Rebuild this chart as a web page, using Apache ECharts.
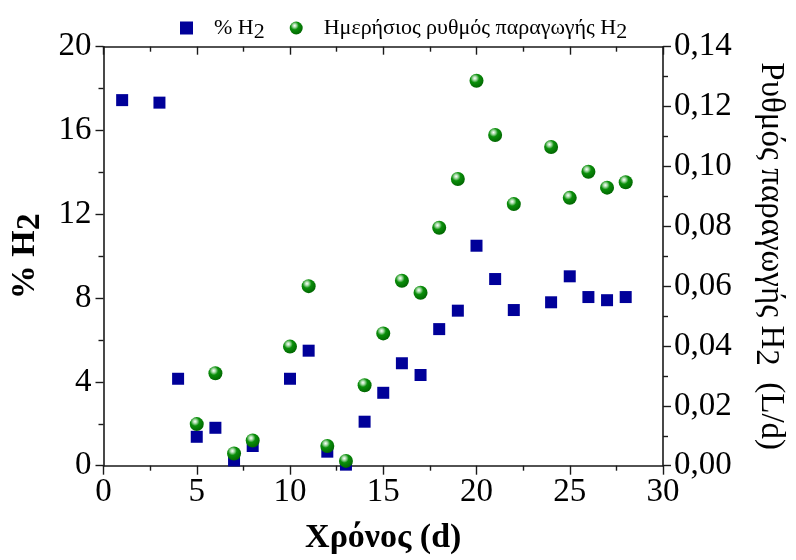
<!DOCTYPE html>
<html>
<head>
<meta charset="utf-8">
<script src="https://cdn.jsdelivr.net/npm/echarts@6/dist/echarts.min.js"></script>
<style>html,body{margin:0;padding:0;background:#fff}#c{width:796px;height:560px}</style>
</head>
<body>
<div id="c"></div>
<script>
// Data
const h2Days = [1, 3, 4, 5, 6, 7, 8, 10, 11, 12, 13, 14, 15, 16, 17, 18, 19, 20, 21, 22, 24, 25, 26, 27, 28];
const h2Percent = [17.45, 17.33, 4.15, 1.38, 1.81, 0.25, 0.94, 4.15, 5.49, 0.67, 0.05, 2.1, 3.48, 4.89, 4.33, 6.52, 7.4, 10.5, 8.91, 7.43, 7.8, 9.04, 8.05, 7.9, 8.05];
const rateDays = [5, 6, 7, 8, 10, 11, 12, 13, 14, 15, 16, 17, 18, 19, 20, 21, 22, 24, 25, 26, 27, 28];
const rateValues = [0.0139, 0.0309, 0.0041, 0.0084, 0.0398, 0.0600, 0.0066, 0.0016, 0.0269, 0.0442, 0.0618, 0.0578, 0.0795, 0.0958, 0.1286, 0.1105, 0.0874, 0.1065, 0.0895, 0.0982, 0.0929, 0.0947];
const seriesNames = ['% H2', 'Ημερήσιος ρυθμός παραγωγής H2'];
const xTitle = 'Χρόνος (d)';

const FONT = 'Liberation Serif';
const AX = '#1a1a1a';
const chart = echarts.init(document.getElementById('c'));

const baseAxisLine = { show: true, lineStyle: { color: AX, width: 1.6 } };
const tickStyle = { color: AX, width: 1.4 };
const labelStyle = { fontFamily: FONT, fontSize: 33, color: '#000' };

const sphere = new echarts.graphic.RadialGradient(0.38, 0.32, 0.75, [
  { offset: 0, color: '#ffffff' },
  { offset: 0.18, color: '#a8dba8' },
  { offset: 0.42, color: '#0a8f0a' },
  { offset: 1, color: '#006000' }
]);

chart.setOption({
  animation: false,
  backgroundColor: '#fff',
  grid: { left: 103.5, right: 133, top: 46.7, bottom: 94.3, containLabel: false, outerBoundsMode: 'none' },
  legend: {
    top: 4, left: 175,
    itemGap: 25,
    itemWidth: 13, itemHeight: 13,
    data: [
      { name: seriesNames[0], icon: 'rect', itemStyle: { color: '#000099' } },
      { name: seriesNames[1], icon: 'circle' }
    ],
    formatter: function (n) {
      return n.replace(/H2$/, 'H{sub|2}');
    },
    textStyle: {
      fontFamily: FONT, fontSize: 22, color: '#000', padding: [0, 0, 0, 16],
      rich: { sub: { fontFamily: FONT, fontSize: 22, verticalAlign: 'bottom', padding: [12, 0, 0, 0], lineHeight: 30 } }
    }
  },
  xAxis: [
    {
      type: 'value', position: 'bottom', min: 0, max: 30, interval: 5,
      axisLine: Object.assign({ onZero: false }, baseAxisLine),
      axisTick: { show: true, inside: false, length: 9, lineStyle: tickStyle },
      minorTick: { show: true, splitNumber: 2, length: 5, lineStyle: tickStyle },
      splitLine: { show: false },
      axisLabel: Object.assign({ margin: 10 }, labelStyle),
      name: xTitle, nameLocation: 'middle', nameGap: 56,
      nameTextStyle: { fontFamily: FONT, fontSize: 34, fontWeight: 'bold', color: '#000' }
    },
    {
      type: 'value', position: 'top', min: 0, max: 30, interval: 5,
      axisLine: Object.assign({ onZero: false }, baseAxisLine),
      axisTick: { show: true, inside: true, length: 8, lineStyle: tickStyle },
      minorTick: { show: true, splitNumber: 2, length: 5, lineStyle: tickStyle },
      splitLine: { show: false },
      axisLabel: { show: false }
    }
  ],
  yAxis: [
    {
      type: 'value', position: 'left', min: 0, max: 20, interval: 4,
      axisLine: Object.assign({ onZero: false }, baseAxisLine),
      axisTick: { show: true, inside: false, length: 8, lineStyle: tickStyle },
      minorTick: { show: true, splitNumber: 2, length: 5, lineStyle: tickStyle },
      splitLine: { show: false },
      axisLabel: Object.assign({ margin: 12 }, labelStyle),
      name: '% H{sub|2}', nameLocation: 'middle', nameGap: 52, nameRotate: 90,
      nameTextStyle: {
        fontFamily: FONT, fontSize: 34, fontWeight: 'bold', color: '#000',
        rich: { sub: { fontFamily: FONT, fontSize: 34, fontWeight: 'bold', verticalAlign: 'bottom', padding: [16, 0, 0, 0], lineHeight: 44 } }
      }
    },
    {
      type: 'value', position: 'right', min: 0, max: 0.14, interval: 0.02,
      axisLine: Object.assign({ onZero: false }, baseAxisLine),
      axisTick: { show: true, inside: false, length: 8, lineStyle: tickStyle },
      minorTick: { show: true, splitNumber: 2, length: 5, lineStyle: tickStyle },
      splitLine: { show: false },
      axisLabel: Object.assign({ margin: 11, formatter: v => v.toFixed(2).replace('.', ',') }, labelStyle),
      name: 'Ρυθμός παραγωγής H{sub|2}  (L/d)', nameLocation: 'middle', nameGap: 86, nameRotate: -90,
      nameTextStyle: {
        fontFamily: FONT, fontSize: 33, color: '#000',
        rich: { sub: { fontFamily: FONT, fontSize: 33, verticalAlign: 'bottom', padding: [16, 0, 0, 0], lineHeight: 44 } }
      }
    }
  ],
  series: [
    {
      name: seriesNames[0], type: 'scatter', xAxisIndex: 0, yAxisIndex: 0,
      symbol: 'rect', symbolSize: 12,
      itemStyle: { color: '#000099', opacity: 1 },
      data: h2Days.map((d, i) => [d, h2Percent[i]]),
      z: 2
    },
    {
      name: seriesNames[1], type: 'scatter', xAxisIndex: 0, yAxisIndex: 1,
      symbol: 'circle', symbolSize: 14,
      itemStyle: { color: sphere, opacity: 1 },
      data: rateDays.map((d, i) => [d, rateValues[i]]),
      z: 3
    }
  ]
});
</script>
</body>
</html>
